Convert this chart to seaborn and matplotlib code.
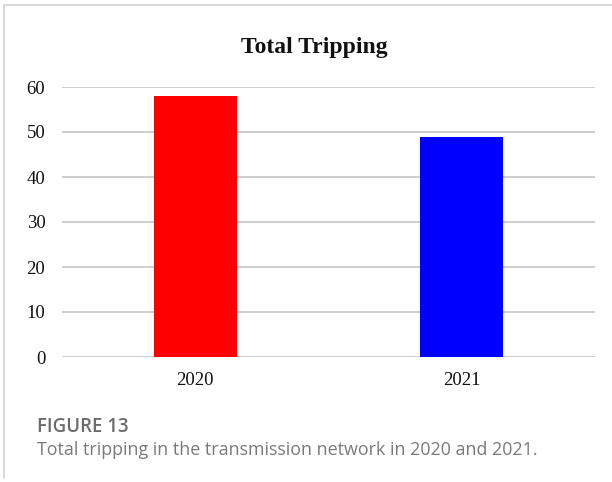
import matplotlib
matplotlib.use("Agg")
import matplotlib.pyplot as plt
from matplotlib.lines import Line2D
import seaborn as sns
import pandas as pd

# Data
years = ["2020", "2021"]
trippings = [58, 49]
bar_colors = ["#ff0000", "#0000ff"]
y_ticks = [0, 10, 20, 30, 40, 50, 60]

title = "Total Tripping"
fig_label = "FIGURE 13"
caption = "Total tripping in the transmission network in 2020 and 2021."

sns.set_theme(style="white")
plt.rcParams["font.family"] = ["Liberation Serif", "DejaVu Serif"]

W, H = 612, 482
fig = plt.figure(figsize=(W / 100, H / 100), dpi=100)
fig.patch.set_facecolor("white")

# Plot area in pixel terms
left_px, right_px, top_px, bottom_px = 62, 595, 87, 357
ax = fig.add_axes([left_px / W, 1 - bottom_px / H,
                   (right_px - left_px) / W, (bottom_px - top_px) / H])

df = pd.DataFrame({"year": years, "count": trippings})
sns.barplot(data=df, x="year", y="count", hue="year", palette=bar_colors,
            width=0.31, legend=False, ax=ax, saturation=1,
            edgecolor="none", zorder=3)

ax.set_xlim(-0.5, 1.5)
ax.set_ylim(0, 60)
ax.set_yticks(y_ticks)
ax.set_yticklabels([str(t) for t in y_ticks])
ax.set_xlabel("")
ax.set_ylabel("")
ax.grid(axis="y", color="#c6c6c6", linewidth=1.2, zorder=0)
ax.grid(axis="x", visible=False)
ax.set_axisbelow(True)
for s in ax.spines.values():
    s.set_visible(False)
ax.tick_params(axis="both", length=0, labelsize=13.5, colors="#111111")
ax.tick_params(axis="y", pad=12)
ax.tick_params(axis="x", pad=11)

# Title
fig.text(314 / W, 1 - 47 / H, title, ha="center", va="center",
         fontsize=17, fontweight="bold", color="#111111",
         family=["Liberation Serif", "DejaVu Serif"])

# Caption block
fig.text(37 / W, 1 - 432 / H, fig_label, ha="left", va="baseline",
         fontsize=13.4, fontweight="semibold", color="#6b6b6b",
         family=["Open Sans", "DejaVu Sans"])
fig.text(37 / W, 1 - 455 / H, caption, ha="left", va="baseline",
         fontsize=12.9, color="#7a7a7a",
         family=["Open Sans", "DejaVu Sans"])

# Light frame on the top and left edges
frame_color = "#d2d2d2"
fig.add_artist(Line2D([4 / W, 1.0], [1 - 5 / H, 1 - 5 / H],
                      transform=fig.transFigure, color=frame_color, linewidth=1.2))
fig.add_artist(Line2D([4 / W, 4 / W], [1 - 5 / H, 1 - 478 / H],
                      transform=fig.transFigure, color=frame_color, linewidth=1.2))

fig.savefig("out.png", dpi=100, facecolor="white")
